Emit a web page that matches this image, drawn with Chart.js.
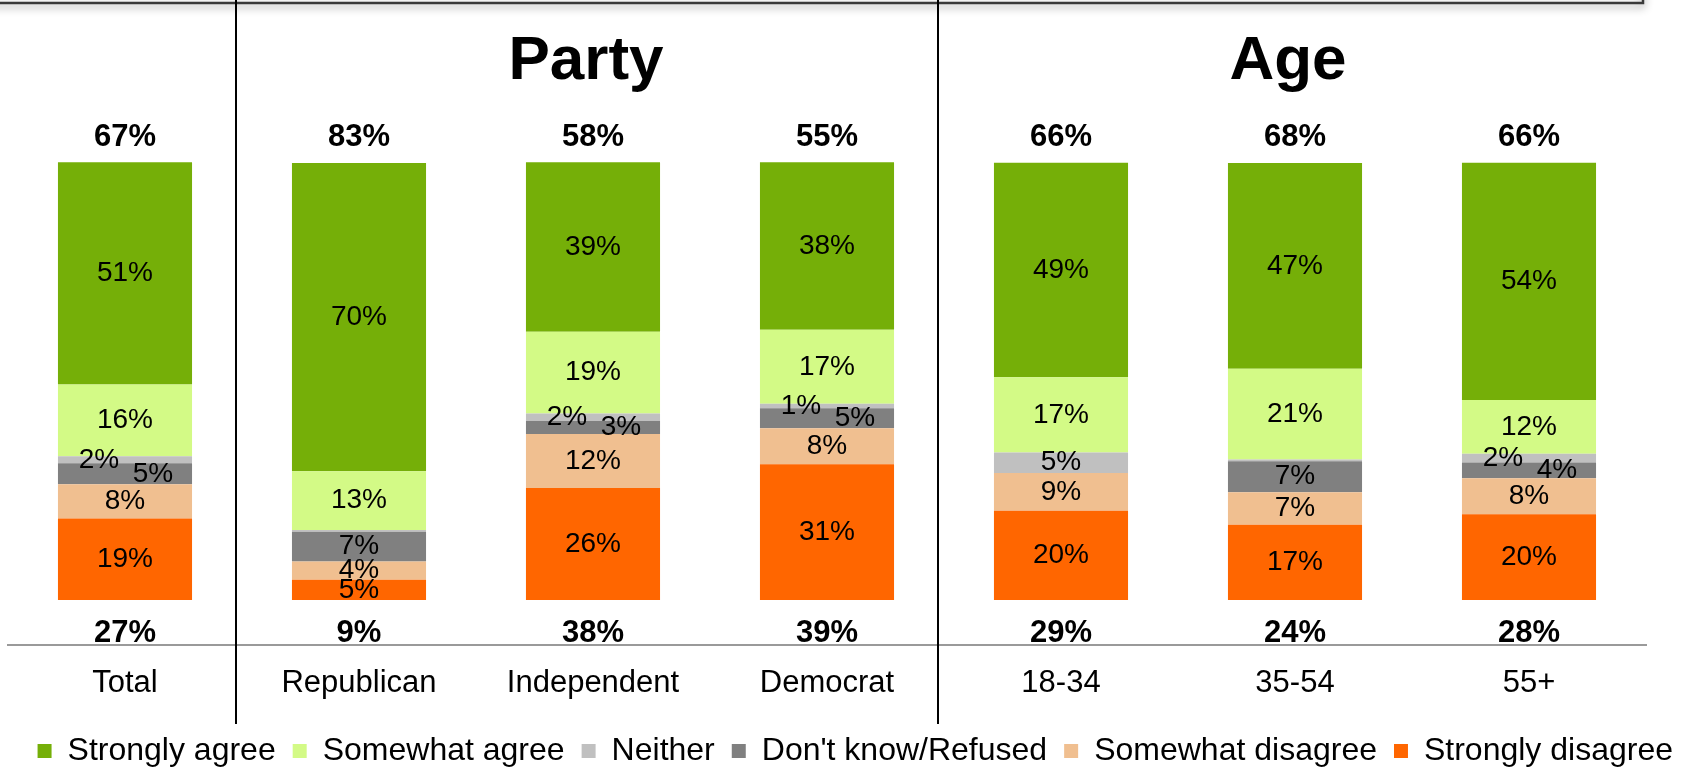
<!DOCTYPE html>
<html>
<head>
<meta charset="utf-8">
<script src="https://cdn.jsdelivr.net/npm/chart.js@4.4.0/dist/chart.umd.min.js"></script>
<style>
html, body { margin: 0; padding: 0; background: #fff; }
</style>
</head>
<body>
<canvas id="canvas" width="1690" height="767"></canvas>
<script>
// data (segment sizes estimated, labels are the rounded values)
const categories = ['Total', 'Republican', 'Independent', 'Democrat', '18-34', '35-54', '55+'];
const stronglyAgree = [50.8, 70.4, 38.7, 38.3, 49.0, 47.0, 54.2];
const somewhatAgree = [16.4, 13.4, 18.7, 16.9, 17.2, 20.7, 12.3];
const neither = [1.6, 0.4, 1.7, 1.0, 4.7, 0.4, 2.0];
const dontKnow = [4.8, 6.8, 3.0, 4.6, 0, 7.1, 3.6];
const somewhatDisagree = [7.8, 4.2, 12.3, 8.2, 8.6, 7.4, 8.2];
const stronglyDisagree = [18.6, 4.6, 25.6, 31.0, 20.4, 17.2, 19.6];
const netAgree = [67, 83, 58, 55, 66, 68, 66];
const netDisagree = [27, 9, 38, 39, 29, 24, 28];
const groupNames = ['Party', 'Age'];
const groupFirst = [1, 4];
const groupLast = [3, 6];
const separatorsAfter = [0, 3];

const FONT = "'Liberation Sans', Arial, sans-serif";

// bottom of the stack first, legend is reversed
const datasets = [
    { label: 'Strongly disagree', data: stronglyDisagree, backgroundColor: '#FF6600' },
    { label: 'Somewhat disagree', data: somewhatDisagree, backgroundColor: '#F0BF90' },
    { label: "Don't know/Refused", data: dontKnow, backgroundColor: '#808080' },
    { label: 'Neither', data: neither, backgroundColor: '#C0C0C0' },
    { label: 'Somewhat agree', data: somewhatAgree, backgroundColor: '#D3FA86' },
    { label: 'Strongly agree', data: stronglyAgree, backgroundColor: '#75AF08' }
];
datasets.forEach(d => {
    d.borderWidth = 0;
    d.barPercentage = 0.573;
    d.categoryPercentage = 1;
});

// grey frame edge at the top of the picture
const frameTop = {
    id: 'frameTop',
    beforeDraw(chart) {
        const ctx = chart.ctx;
        const xs = chart.scales.x;
        ctx.save();
        ctx.shadowColor = 'rgba(0,0,0,0.45)';
        ctx.shadowBlur = 8;
        ctx.shadowOffsetY = 3;
        ctx.strokeStyle = '#3a3a3a';
        ctx.lineWidth = 2.5;
        ctx.strokeRect(-20, -40, xs.right - 3 + 20, 43);
        ctx.restore();
    }
};

const segmentLabels = {
    id: 'segmentLabels',
    afterDatasetsDraw(chart) {
        const ctx = chart.ctx;
        const xs = chart.scales.x;
        const ys = chart.scales.y;
        ctx.save();
        ctx.fillStyle = '#000';
        ctx.textAlign = 'center';
        ctx.textBaseline = 'middle';

        // values inside the bars
        ctx.font = '28px ' + FONT;
        const nIdx = 3, dIdx = 2;
        categories.forEach((c, i) => {
            const boxes = chart.data.datasets.map((ds, di) => {
                const el = chart.getDatasetMeta(di).data[i];
                const p = el.getProps(['x', 'y', 'base'], true);
                return { x: p.x, y: (p.y + p.base) / 2, v: Math.round(ds.data[i]) };
            });
            // the two thin grey segments push their labels apart
            const n = boxes[nIdx], d = boxes[dIdx];
            if (n.v > 0 && d.v > 0 && Math.abs(n.y - d.y) < 26) {
                n.x -= 26;
                d.x += 28;
            }
            boxes.forEach(b => {
                if (b.v > 0) ctx.fillText(b.v + '%', b.x, b.y);
            });
        });

        // net totals above and below
        ctx.font = 'bold 31px ' + FONT;
        categories.forEach((c, i) => {
            const x = xs.getPixelForValue(i);
            ctx.fillText(netAgree[i] + '%', x, ys.getPixelForValue(105.75));
            ctx.fillText(netDisagree[i] + '%', x, ys.getPixelForValue(-7.6));
        });

        // group headings
        ctx.font = 'bold 62px ' + FONT;
        groupNames.forEach((g, k) => {
            const x = (xs.getPixelForValue(groupFirst[k]) + xs.getPixelForValue(groupLast[k])) / 2 - 7;
            ctx.fillText(g, x, ys.getPixelForValue(123));
        });

        // separators between groups
        ctx.strokeStyle = '#000';
        ctx.lineWidth = 2;
        separatorsAfter.forEach(i => {
            const x = Math.round((xs.getPixelForValue(i) + xs.getPixelForValue(i + 1)) / 2 - 6);
            ctx.beginPath();
            ctx.moveTo(x, 0);
            ctx.lineTo(x, xs.bottom + 6);
            ctx.stroke();
        });
        ctx.restore();
    }
};

const ctx = document.getElementById('canvas');
const myChart = new Chart(ctx, {
    type: 'bar',
    data: {
        labels: categories,
        datasets: datasets
    },
    plugins: [frameTop, segmentLabels],
    options: {
        responsive: false,
        animation: false,
        devicePixelRatio: 1,
        layout: {
            padding: { left: 0, right: 0, top: 0, bottom: -10 }
        },
        scales: {
            x: {
                stacked: true,
                grid: { display: false, drawTicks: true, tickLength: 4 },
                border: { display: true, color: '#9a9a9a', width: 2 },
                ticks: {
                    color: '#000',
                    padding: 19,
                    font: { family: FONT, size: 31, lineHeight: 1.0 }
                }
            },
            y: {
                stacked: true,
                min: -10.3,
                max: 137.07,
                grid: { display: false, drawTicks: false },
                border: { display: false },
                ticks: { display: false },
                afterFit: s => { s.width = 8; }
            },
            y2: {
                position: 'right',
                grid: { display: false, drawTicks: false },
                border: { display: false },
                ticks: { display: false },
                afterFit: s => { s.width = 44; }
            }
        },
        plugins: {
            tooltip: { enabled: false },
            legend: {
                position: 'bottom',
                align: 'end',
                reverse: true,
                labels: {
                    color: '#000',
                    boxWidth: 14,
                    boxHeight: 14,
                    padding: 17,
                    font: { family: FONT, size: 32 }
                }
            }
        }
    }
});
</script>
</body>
</html>
